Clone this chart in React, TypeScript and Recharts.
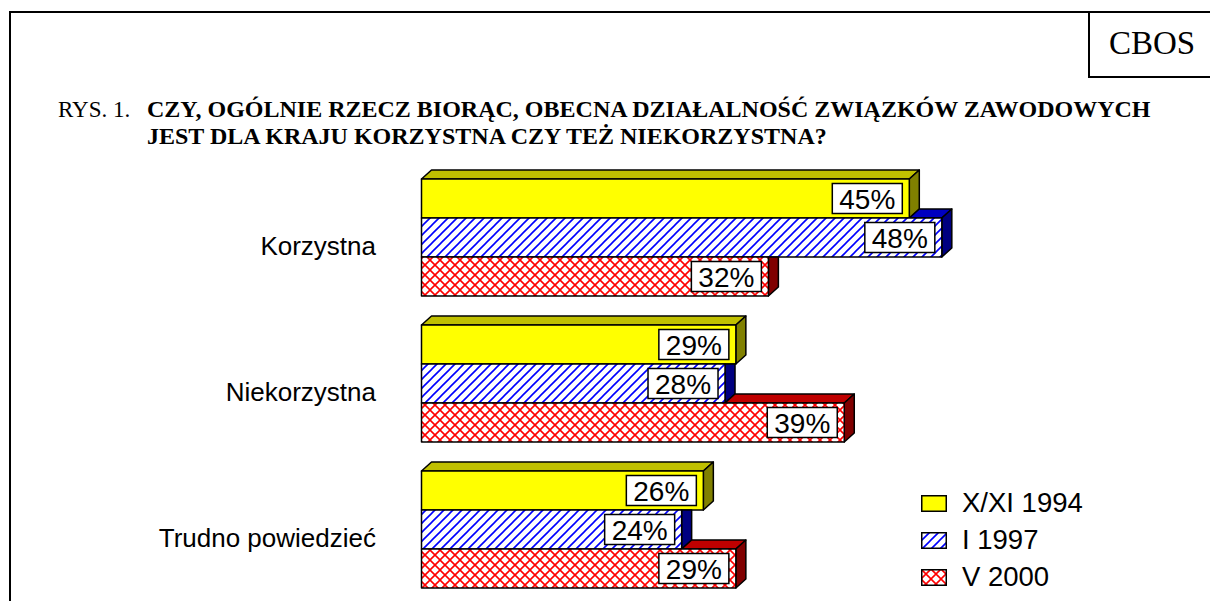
import React from "react";
import { BarChart, Bar, XAxis, YAxis, LabelList, Legend } from "recharts";

const categories = ["Korzystna", "Niekorzystna", "Trudno powiedzieć"];
const seriesNames = ["X/XI 1994", "I 1997", "V 2000"];
const values1994 = [45, 29, 26];
const values1997 = [48, 28, 24];
const values2000 = [32, 39, 29];

const data = categories.map((name, i) => ({
  name,
  s1994: values1994[i],
  s1997: values1997[i],
  s2000: values2000[i],
}));

const SERIES = [
  { key: "s1994", front: "#FFFF00", top: "#C0C000", side: "#808000" },
  { key: "s1997", front: "url(#hatchBlue)", top: "#0000C0", side: "#000080" },
  { key: "s2000", front: "url(#crossRed)", top: "#C00000", side: "#800000" },
];

const SANS = '"Liberation Sans", Arial, sans-serif';
const SERIF = '"Liberation Serif", "Times New Roman", serif';
const DX = 10;
const DY = 9;

// front face + visible part of top and side faces (3D look)
const make3DShape = (idx: number) => (props: any) => {
  const { x, y, width, height, payload } = props;
  const s = SERIES[idx];
  const v = payload[s.key];
  const ppu = v ? width / v : 0;
  const xe = x + width;
  const yb = y + height;
  const prevEnd = idx > 0 ? x + payload[SERIES[idx - 1].key] * ppu : -Infinity;
  const st = { stroke: "#000", strokeWidth: 1.5, strokeLinejoin: "round" as const };
  let top = null;
  if (xe > prevEnd) {
    const xs = Math.max(x, prevEnd);
    top = (
      <polygon
        points={`${xs},${y} ${xs + DX},${y - DY} ${xe + DX},${y - DY} ${xe},${y}`}
        fill={s.top}
        {...st}
      />
    );
  }
  const side =
    xe >= prevEnd
      ? `${xe},${y} ${xe + DX},${y - DY} ${xe + DX},${yb - DY} ${xe},${yb}`
      : `${xe},${y} ${xe + DX},${y} ${xe + DX},${yb - DY} ${xe},${yb}`;
  return (
    <g>
      {top}
      <polygon points={side} fill={s.side} {...st} />
      <rect x={x} y={y} width={width} height={height} fill={s.front} {...st} />
    </g>
  );
};

const ValueLabel = (props: any) => {
  const vb = props.viewBox ?? props;
  const { x, y, width, height } = vb;
  const bw = 70;
  const bh = 30;
  const rx = x + width - 7 - bw;
  const cy = y + height / 2;
  return (
    <g>
      <rect x={rx} y={cy - bh / 2} width={bw} height={bh} fill="#fff" stroke="#000" strokeWidth={1.5} />
      <text
        x={rx + bw / 2}
        y={cy + 1}
        textAnchor="middle"
        dominantBaseline="central"
        fontFamily={SANS}
        fontSize={28}
        fill="#000"
      >
        {props.value}%
      </text>
    </g>
  );
};

const CategoryTick = ({ x, y, payload }: any) => (
  <text x={x} y={y + 8} textAnchor="end" dominantBaseline="central" fontFamily={SANS} fontSize={26} fill="#000">
    {payload.value}
  </text>
);

const swatchFill = ["#FFFF00", "url(#hatchBlue)", "url(#crossRed)"];

const LegendBox = ({ payload }: any) => {
  const items = [...(payload || [])].sort(
    (a: any, b: any) => seriesNames.indexOf(a.value) - seriesNames.indexOf(b.value)
  );
  return (
    <div style={{ fontFamily: SANS, fontSize: 27.5, color: "#000" }}>
      {items.map((entry: any) => {
        const i = seriesNames.indexOf(entry.value);
        return (
          <div key={entry.value} style={{ display: "flex", alignItems: "center", height: 37 }}>
            <svg width={26} height={17} style={{ display: "block" }}>
              <rect x={0.75} y={0.75} width={24.5} height={15.5} fill={swatchFill[i]} stroke="#000" strokeWidth={1.5} />
            </svg>
            <span style={{ marginLeft: 15, whiteSpace: "nowrap" }}>{entry.value}</span>
          </div>
        );
      })}
    </div>
  );
};

export default function App() {
  return (
    <div style={{ position: "relative", width: 1210, height: 601, overflow: "hidden", background: "#fff" }}>
      <style>{`body{margin:0}`}</style>
      <svg width={1210} height={601} style={{ position: "absolute", left: 0, top: 0 }}>
        <line x1={10} y1={12} x2={1210} y2={12} stroke="#000" strokeWidth={2} />
        <line x1={10} y1={11} x2={10} y2={601} stroke="#000" strokeWidth={2} />
        <line x1={1089} y1={12} x2={1089} y2={77} stroke="#000" strokeWidth={2} />
        <line x1={1088} y1={77} x2={1210} y2={77} stroke="#000" strokeWidth={2} />
        <text x={1152} y={54} textAnchor="middle" fontFamily={SERIF} fontSize={33}>
          CBOS
        </text>
        <text x={58} y={117} fontFamily={SERIF} fontSize={23}>
          RYS. 1.
        </text>
        <text x={147} y={117} fontFamily={SERIF} fontSize={24} fontWeight="bold">
          CZY, OGÓLNIE RZECZ BIORĄC, OBECNA DZIAŁALNOŚĆ ZWIĄZKÓW ZAWODOWYCH
        </text>
        <text x={147} y={144} fontFamily={SERIF} fontSize={24} fontWeight="bold">
          JEST DLA KRAJU KORZYSTNA CZY TEŻ NIEKORZYSTNA?
        </text>
      </svg>
      <div style={{ position: "absolute", left: 0, top: 0 }}>
        <BarChart
          width={1210}
          height={620}
          data={data}
          layout="vertical"
          margin={{ top: 164.5, right: 138.1, bottom: 17.5, left: 301.5 }}
          barCategoryGap={14.5}
          barGap={0}
        >
          <defs>
            <pattern id="hatchBlue" patternUnits="userSpaceOnUse" width={9} height={9}>
              <rect width={9} height={9} fill="#fff" />
              <path d="M0,9 L9,0 M-1,1 L1,-1 M8,10 L10,8" stroke="#0000FF" strokeWidth={1.6} />
            </pattern>
            <pattern id="crossRed" patternUnits="userSpaceOnUse" width={10} height={10}>
              <rect width={10} height={10} fill="#fff" />
              <path d="M0,0 L10,10 M10,0 L0,10" stroke="#FF0000" strokeWidth={1.6} />
            </pattern>
          </defs>
          <XAxis type="number" domain={[0, 60]} hide />
          <YAxis
            type="category"
            dataKey="name"
            width={120}
            axisLine={false}
            tickLine={false}
            tickMargin={39.5}
            tick={<CategoryTick />}
          />
          <Legend
            layout="vertical"
            align="center"
            verticalAlign="middle"
            content={<LegendBox />}
            wrapperStyle={{ left: 921, top: 484.5, width: 220 }}
          />
          {SERIES.map((s, i) => (
            <Bar
              key={s.key}
              dataKey={s.key}
              name={seriesNames[i]}
              fill={i === 0 ? "#FFFF00" : i === 1 ? "#0000FF" : "#FF0000"}
              shape={make3DShape(i)}
              isAnimationActive={false}
            >
              <LabelList dataKey={s.key} content={<ValueLabel />} />
            </Bar>
          ))}
        </BarChart>
      </div>
    </div>
  );
}
